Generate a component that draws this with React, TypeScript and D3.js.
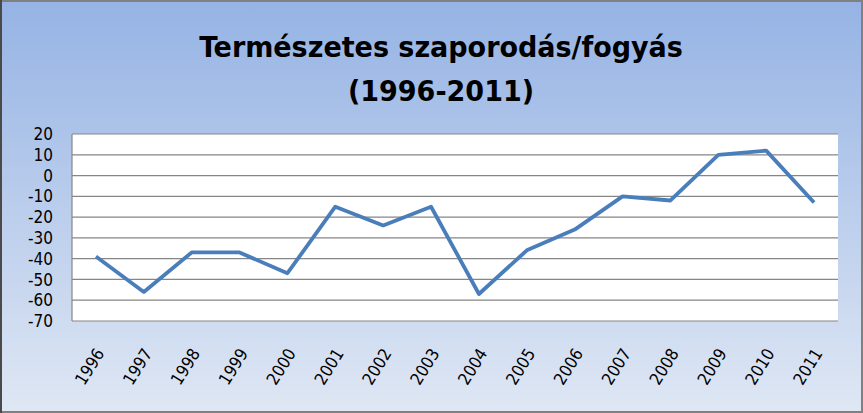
import React from "react";
import * as d3 from "d3";

const years = ["1996","1997","1998","1999","2000","2001","2002","2003","2004","2005","2006","2007","2008","2009","2010","2011"];
const values = [-39,-56,-37,-37,-47,-15,-24,-15,-57,-36,-26,-10,-12,10,12,-13];
const yTicks = [20,10,0,-10,-20,-30,-40,-50,-60,-70];
const titleLines = ["Természetes szaporodás/fogyás", "(1996-2011)"];

const W = 863, H = 413;
const plot = { left: 72, right: 838, top: 134, bottom: 321 };
const FONT = "'DejaVu Sans Condensed', 'Liberation Sans', sans-serif";

export default function App() {
  const x = d3.scaleBand<string>().domain(years).range([plot.left, plot.right]);
  const y = d3.scaleLinear().domain([-70, 20]).range([plot.bottom, plot.top]);
  const line = d3.line<number>()
    .x((_, i) => (x(years[i]) as number) + x.bandwidth() / 2)
    .y((d) => y(d));

  return (
    <svg width={W} height={H} style={{ position: "absolute", left: 0, top: 0 }}>
      <defs>
        <linearGradient id="bg" x1="0" y1="0" x2="0" y2="1">
          <stop offset="0" stopColor="#95b3e4" />
          <stop offset="1" stopColor="#dfe7f4" />
        </linearGradient>
      </defs>
      <rect x={1} y={1} width={W - 2} height={H - 2} fill="url(#bg)" stroke="#808080" strokeWidth={2} />
      <line x1={1} y1={0} x2={1} y2={H} stroke="#4a4a4a" strokeWidth={2} />
      {titleLines.map((t, i) => (
        <text key={i} transform={`translate(441,${57 + i * 44}) scale(1,0.92)`} textAnchor="middle"
          fontFamily={FONT} fontWeight="bold" fontSize={30} fill="#000">{t}</text>
      ))}
      <rect x={plot.left} y={plot.top} width={plot.right - plot.left} height={plot.bottom - plot.top} fill="#fff" />
      {yTicks.map((v) => (
        <g key={v}>
          <line x1={plot.left} x2={plot.right} y1={y(v)} y2={y(v)} stroke="#868686" strokeWidth={1.2} />
          <text x={53} y={y(v)} dy="0.36em" textAnchor="end" fontFamily={FONT} fontSize={17} fill="#000">{v}</text>
        </g>
      ))}
      <line x1={plot.left} x2={plot.left} y1={plot.top} y2={plot.bottom} stroke="#868686" strokeWidth={1.2} />
      <path d={line(values) || ""} fill="none" stroke="#4a7ebb" strokeWidth={3.8} strokeLinejoin="round" />
      {years.map((yr) => {
        const cx = (x(yr) as number) + x.bandwidth() / 2 + 4;
        const cy = 350;
        return (
          <text key={yr} transform={`translate(${cx},${cy}) rotate(-58)`} textAnchor="end" dy="0.35em"
            fontFamily={FONT} fontSize={17} fill="#000">{yr}</text>
        );
      })}
    </svg>
  );
}
